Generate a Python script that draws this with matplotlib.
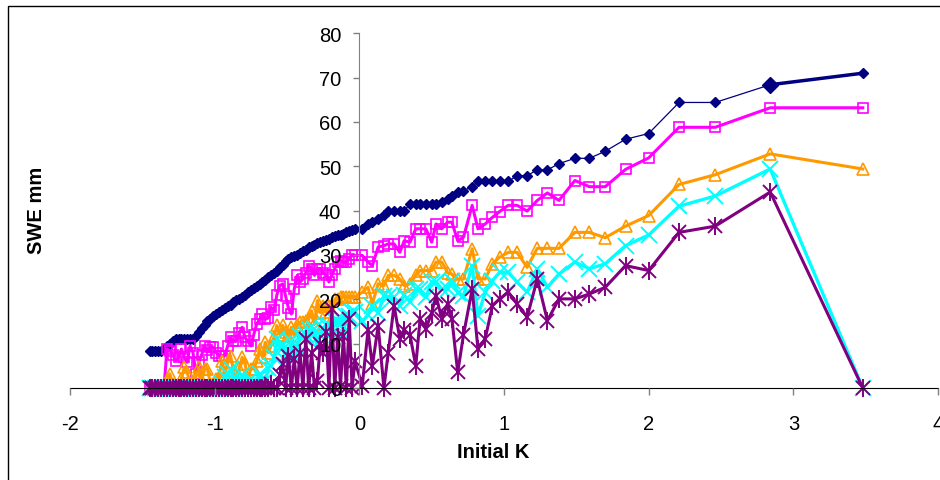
import matplotlib
matplotlib.use("Agg")
import matplotlib.pyplot as plt
from matplotlib.patches import Rectangle

plt.rcParams['font.family'] = ['Liberation Sans', 'DejaVu Sans']
plt.rcParams['axes.unicode_minus'] = False

# x values (Initial K) shared by every series
initial_k = [-1.45, -1.43, -1.41, -1.39, -1.37, -1.35, -1.33, -1.31, -1.29, -1.27, -1.25, -1.23,
             -1.21, -1.19, -1.17, -1.15, -1.13, -1.11, -1.09, -1.07, -1.05, -1.03, -1.01, -0.99,
             -0.97, -0.95, -0.93, -0.91, -0.89, -0.87, -0.85, -0.83, -0.81, -0.79, -0.77, -0.75,
             -0.73, -0.71, -0.69, -0.67, -0.65, -0.63, -0.61, -0.59, -0.57, -0.55, -0.53, -0.51,
             -0.49, -0.47, -0.45, -0.43, -0.41, -0.39, -0.37, -0.35, -0.33, -0.31, -0.29, -0.27,
             -0.25, -0.23, -0.21, -0.19, -0.17, -0.15, -0.13, -0.11, -0.09, -0.07, -0.05, -0.03,
             0.02, 0.06, 0.09, 0.13, 0.17, 0.20, 0.24, 0.28, 0.31, 0.35,
             0.39, 0.42, 0.46, 0.50, 0.53, 0.57, 0.61, 0.64, 0.68, 0.72,
             0.78, 0.82, 0.87, 0.92, 0.97, 1.03, 1.09, 1.16, 1.23, 1.30,
             1.38, 1.49, 1.59, 1.70, 1.84, 2.00, 2.21, 2.46, 2.84, 3.48]

swe_navy = [8.3, 8.3, 8.3, 8.3, 8.3, 8.8, 9.5, 9.9, 10.5, 11.1, 11.1, 11.1,
            11.1, 11.1, 11.1, 11.1, 11.8, 12.6, 13.5, 14.3, 15.0, 15.5, 16.2, 16.8,
            17.1, 17.5, 18.0, 18.4, 18.8, 19.4, 19.8, 20.1, 20.6, 21.0, 21.6, 22.0,
            22.5, 23.0, 23.4, 24.0, 24.4, 25.0, 25.4, 26.0, 26.5, 27.2, 27.8, 28.6,
            29.2, 29.5, 29.8, 30.1, 30.4, 30.8, 31.2, 31.8, 32.0, 32.3, 32.6, 32.9,
            33.2, 33.4, 33.6, 34.0, 34.2, 34.5, 34.6, 34.8, 35.1, 35.3, 35.6, 35.9,
            35.9, 37.0, 37.4, 38.1, 39.0, 40.0, 40.0, 40.0, 40.0, 41.5,
            41.5, 41.5, 41.5, 41.5, 41.5, 42.0, 42.7, 43.2, 44.2, 44.5,
            45.4, 46.6, 46.6, 46.6, 46.6, 46.6, 47.9, 47.9, 49.2, 49.2,
            50.6, 51.8, 51.8, 53.4, 56.1, 57.4, 64.4, 64.4, 68.4, 71.0]

swe_magenta = [0, 0, 0, 0, 0, 0, 8.8, 8.4, 7.5, 6.2, 7.0, 8.8,
               7.0, 5.8, 9.5, 8.0, 3.2, 5.8, 7.5, 9.5, 8.5, 9.2, 9.2, 8.0,
               7.3, 7.3, 7.3, 9.5, 11.4, 10.7, 10.7, 12.5, 13.7, 11.4, 10.5, 9.5,
               12.0, 14.4, 15.5, 16.7, 15.5, 15.8, 18.2, 17.5, 21.0, 23.1, 23.5, 20.8,
               18.0, 16.7, 22.3, 25.4, 23.9, 24.6, 26.0, 27.6, 26.9, 25.4, 26.9, 26.9,
               26.0, 25.4, 23.9, 25.4, 26.9, 28.4, 28.7, 28.4, 28.4, 29.1, 29.9, 29.9,
               29.9, 28.4, 27.6, 31.8, 32.1, 32.5, 32.5, 30.6, 33.2, 32.9,
               35.9, 35.9, 35.9, 32.9, 37.0, 35.9, 37.4, 37.4, 33.2, 34.0,
               41.2, 35.9, 37.0, 38.5, 39.8, 41.2, 41.2, 39.9, 42.3, 44.0,
               42.3, 46.8, 45.4, 45.4, 49.3, 51.9, 58.8, 58.8, 63.2, 63.2]

swe_orange = [0, 0, 0, 0, 0, 0.5, 1.5, 3.2, 1.0, 0.5, 0.5, 2.0,
              4.7, 3.5, 1.0, 1.5, 2.5, 4.7, 1.5, 4.3, 4.3, 1.0, 1.0, 2.0,
              2.5, 6.2, 3.0, 5.8, 7.3, 4.0, 2.0, 4.5, 6.9, 5.5, 2.0, 4.3,
              4.3, 6.0, 8.8, 7.0, 10.3, 8.0, 9.5, 11.5, 14.1, 12.0, 14.1, 12.6,
              11.8, 13.7, 11.8, 14.1, 14.8, 14.8, 15.2, 15.6, 17.4, 14.5, 19.7, 17.0,
              18.6, 17.1, 18.6, 15.6, 20.1, 20.1, 20.5, 20.5, 20.5, 20.5, 20.5, 20.5,
              21.6, 22.7, 19.0, 23.5, 23.1, 25.4, 25.4, 24.6, 23.1, 23.5,
              25.4, 26.5, 26.5, 26.5, 28.4, 28.4, 26.0, 25.7, 24.6, 24.6,
              31.4, 24.6, 24.6, 28.0, 29.5, 30.6, 30.6, 27.2, 31.5, 31.5,
              31.5, 35.1, 35.1, 33.9, 36.5, 38.9, 45.9, 48.1, 52.8, 49.4]

swe_cyan = [0, 0, 0, 0, 0, 0, 0, 0, 0, 0, 0, 0,
            0, 0, 0, 0, 0, 0, 0, 0, 0, 0, 0, 0,
            0, 1.0, 2.5, 3.2, 4.3, 2.0, 0.5, 1.5, 3.0, 1.0, 0, 2.0,
            1.0, 0.5, 3.2, 2.0, 1.5, 4.5, 5.0, 7.0, 11.1, 9.0, 9.9, 6.0,
            8.0, 10.5, 7.3, 9.0, 11.8, 11.4, 12.0, 13.3, 12.0, 13.3, 9.0, 12.0,
            13.5, 14.1, 14.1, 12.5, 15.2, 15.2, 15.6, 12.5, 16.3, 16.3, 17.1, 17.1,
            15.0, 16.5, 18.6, 17.0, 20.8, 20.5, 20.5, 18.6, 21.0, 19.5,
            22.3, 22.3, 20.5, 23.9, 23.9, 22.3, 22.3, 24.2, 21.5, 20.8,
            27.6, 16.3, 21.6, 24.2, 26.1, 26.1, 23.9, 21.6, 26.9, 22.7,
            25.7, 28.4, 26.9, 28.0, 32.1, 34.5, 41.0, 43.3, 49.4, 0]

swe_purple = [0, 0, 0, 0, 0, 0, 0, 0, 0, 0, 0, 0,
              0, 0, 0, 0, 0, 0, 0, 0, 0, 0, 0, 0,
              0, 0, 0, 0, 0, 0, 0, 0, 0, 0, 0, 0,
              0, 0, 0, 0, 0, 0, 1.0, 0, 0, 3.0, 5.4, 0,
              7.3, 0, 6.5, 0, 8.0, 0, 11.1, 0, 8.0, 0, 1.5, 10.0,
              8.0, 12.6, 0, 17.8, 0, 11.4, 0.5, 11.8, 0, 15.6, 0, 6.0,
              0.5, 13.0, 5.0, 14.0, 0, 8.0, 18.6, 11.1, 13.0, 12.0,
              5.0, 15.6, 13.3, 17.0, 20.8, 15.6, 19.0, 15.6, 3.5, 12.0,
              22.3, 8.8, 11.1, 18.6, 20.1, 21.6, 19.0, 16.0, 24.6, 15.2,
              20.1, 20.1, 21.2, 22.7, 27.6, 26.5, 35.1, 36.5, 44.2, 0]

fig = plt.figure(figsize=(9.4, 4.81), dpi=100)
ax = fig.add_axes([70 / 940, 1 - 389 / 481, 868 / 940, 354.7 / 481])
# axis (ticks + labels) drawn above the series, like the original
ax.set_axisbelow(False)

ax.plot(initial_k, swe_navy, color='#000080', lw=0.9, marker='D', ms=5,
        mfc='#000080', mec='#000080', clip_on=False, zorder=2.0)
# last segment and point are drawn heavier in the original
ax.plot(initial_k[-2:], swe_navy[-2:], color='#000080', lw=2.5, clip_on=False, zorder=2.0)
ax.plot(initial_k[-2], swe_navy[-2], 'D', color='#000080', ms=8, clip_on=False, zorder=2.0)

ax.plot(initial_k, swe_magenta, color='#FF00FF', lw=2.2, marker='s', ms=6.5,
        mfc='none', mec='#FF00FF', mew=1.2, clip_on=False, zorder=2.1)
ax.plot(initial_k, swe_orange, color='#FF9900', lw=2.2, marker='^', ms=8.5,
        mfc='none', mec='#FF9900', mew=1.2, clip_on=False, zorder=2.2)
ax.plot(initial_k, swe_cyan, color='#00FFFF', lw=2.4, marker='x', ms=11,
        mew=1.4, clip_on=False, zorder=2.3)
ax.plot(initial_k, swe_purple, color='#800080', lw=2.2, marker='x', ms=10,
        mew=1.4, clip_on=False, zorder=2.4)
ax.plot(initial_k, swe_purple, ls='none', color='#800080', marker='|', ms=13,
        mew=1.4, clip_on=False, zorder=2.4)

ax.set_xlim(-2, 4)
ax.set_ylim(0, 80)
ax.set_xticks([-2, -1, 0, 1, 2, 3, 4])
ax.set_yticks([0, 10, 20, 30, 40, 50, 60, 70, 80])

ax.spines['top'].set_visible(False)
ax.spines['right'].set_visible(False)
ax.spines['left'].set_position(('data', 0))
ax.spines['left'].set_color('#808080')
ax.spines['bottom'].set_color('black')
ax.tick_params(axis='y', direction='out', length=4, width=1, color='#808080',
               pad=9, labelsize=14.5)
ax.tick_params(axis='x', direction='out', length=5, width=1, color='#808080',
               pad=14, labelsize=14.5)

fig.text(36 / 940, 1 - 210 / 481, 'SWE mm', rotation=90, ha='center', va='center',
         fontsize=14.5, fontweight='bold')
fig.text(493 / 940, 1 - 452 / 481, 'Initial K', ha='center', va='center',
         fontsize=14.5, fontweight='bold')

# chart area border (runs off the right and bottom edge)
fig.patches.append(Rectangle((8 / 940, -0.1), 1.2, 1.1 - 7 / 481, transform=fig.transFigure,
                             fill=False, edgecolor='black', lw=1))

fig.savefig('out.png', dpi=100)
